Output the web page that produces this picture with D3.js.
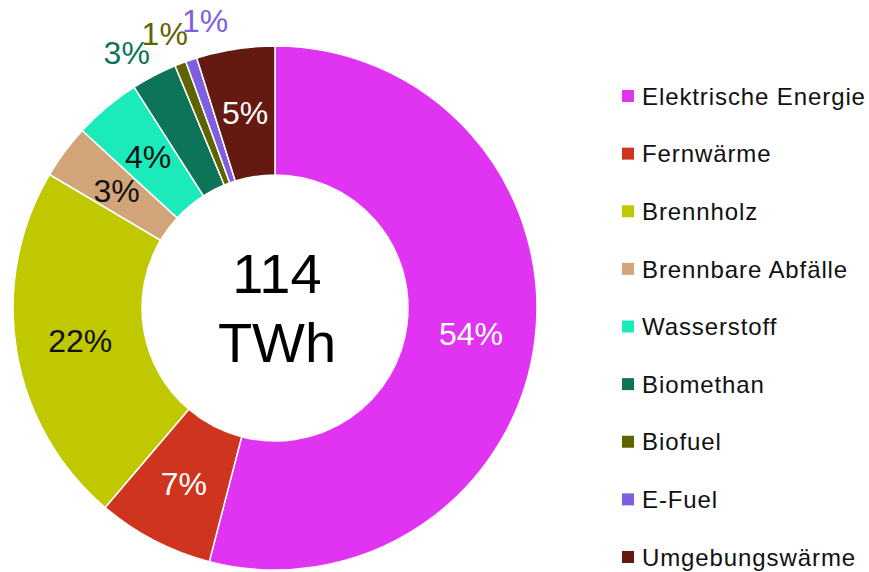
<!DOCTYPE html>
<html>
<head>
<meta charset="utf-8">
<script src="https://cdn.jsdelivr.net/npm/d3@7"></script>
<style>
  body { margin: 0; background: #fff; }
  svg { display: block; font-family: "Liberation Sans", Arial, sans-serif; }
</style>
</head>
<body>
<svg id="chart" width="869" height="572"></svg>
<script>
// Endenergie nach Energieträger (TWh), gelesen aus der Grafik
const categories = ["Elektrische Energie", "Fernwärme", "Brennholz", "Brennbare Abfälle",
  "Wasserstoff", "Biomethan", "Biofuel", "E-Fuel", "Umgebungswärme"];
const values = [61.6, 8.2, 25.4, 3.8, 4.7, 3.2, 0.8, 0.8, 5.5];
const colors = ["#e133f2", "#cf351e", "#bfc800", "#d2a479", "#1beabb",
  "#0e7459", "#5f6400", "#7f5fe0", "#641a10"];
const labelColors = ["#fff", "#fff", "#111", "#111", "#111", null, null, null, "#fff"];
const outsideLabel = [false, false, false, false, false, true, true, true, false];
const totalLabel = ["114", "TWh"];

const svg = d3.select("#chart");
const cx = 275, cy = 308;
const outerR = 262, innerR = 133;

const total = d3.sum(values);
const data = categories.map((c, i) => ({ name: c, value: values[i], i: i }));

const pie = d3.pie().value(d => d.value).sort(null);
const arcs = pie(data);
const arc = d3.arc().innerRadius(innerR).outerRadius(outerR);

const g = svg.append("g").attr("transform", `translate(${cx},${cy})`);

g.selectAll("path.slice")
  .data(arcs)
  .join("path")
  .attr("class", "slice")
  .attr("d", arc)
  .attr("fill", d => colors[d.data.i])
  .attr("stroke", "#fff")
  .attr("stroke-width", 1.5);

const fmt = v => Math.round(v / total * 100) + "%";

// labels inside the ring
g.selectAll("text.inner")
  .data(arcs.filter(d => !outsideLabel[d.data.i]))
  .join("text")
  .attr("class", "inner")
  .attr("transform", d => `translate(${arc.centroid(d)})`)
  .attr("text-anchor", "middle")
  .attr("dy", "0.36em")
  .attr("font-size", 32)
  .attr("fill", d => labelColors[d.data.i])
  .text(d => fmt(d.data.value));

// small slices: labels outside, spread around their mean angle
const small = arcs.filter(d => outsideLabel[d.data.i]);
const mids = small.map(d => (d.startAngle + d.endAngle) / 2);
const meanA = d3.mean(mids);
const gap = 8.2 * Math.PI / 180;
const outR = 297;
g.selectAll("text.outer")
  .data(small)
  .join("text")
  .attr("class", "outer")
  .attr("transform", (d, k) => {
    const a = meanA + (k - (small.length - 1) / 2) * gap;
    return `translate(${outR * Math.sin(a) + 3},${-outR * Math.cos(a)})`;
  })
  .attr("text-anchor", "middle")
  .attr("dy", "0.36em")
  .attr("font-size", 32)
  .attr("fill", d => colors[d.data.i])
  .text(d => fmt(d.data.value));

// total in the hole
g.append("text")
  .attr("text-anchor", "middle")
  .attr("font-size", 56)
  .attr("fill", "#000")
  .selectAll("tspan")
  .data(totalLabel)
  .join("tspan")
  .attr("x", 2)
  .attr("y", (d, k) => -15 + k * 69)
  .text(d => d);

// legend
const legendY = d3.scalePoint().domain(categories).range([96, 557]);
const legend = svg.append("g").attr("transform", "translate(622,0)");
const rows = legend.selectAll("g.row")
  .data(data)
  .join("g")
  .attr("class", "row")
  .attr("transform", d => `translate(0,${legendY(d.name)})`);
rows.append("rect")
  .attr("x", 0).attr("y", -6)
  .attr("width", 12).attr("height", 12)
  .attr("fill", d => colors[d.i]);
rows.append("text")
  .attr("x", 20)
  .attr("dy", "0.36em")
  .attr("font-size", 24)
  .attr("letter-spacing", 0.9)
  .attr("fill", "#111")
  .text(d => d.name);
</script>
</body>
</html>
